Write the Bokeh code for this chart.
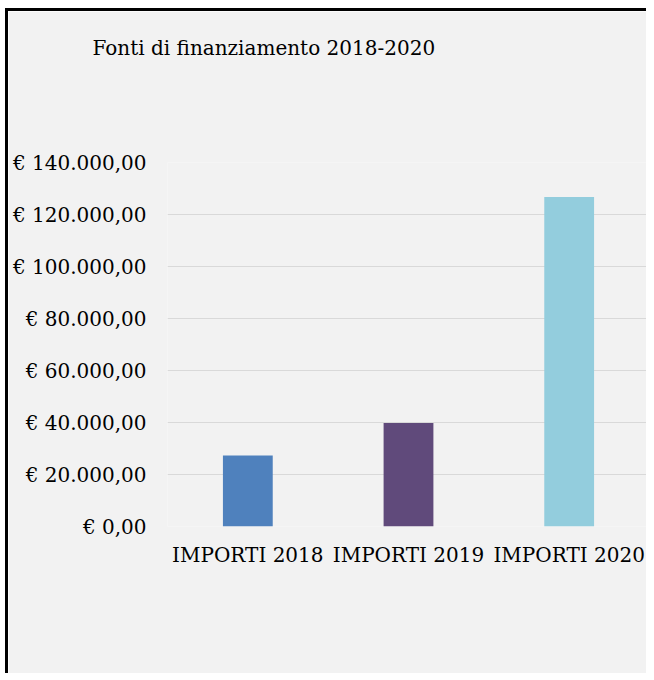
from bokeh.plotting import figure
from bokeh.models import Range1d, FixedTicker, ColumnDataSource, Title
from bokeh.embed import file_html
from bokeh.resources import INLINE

categories = ["IMPORTI 2018", "IMPORTI 2019", "IMPORTI 2020"]
values = [27300, 39800, 126700]
colors = ["#4f81bd", "#604a7b", "#93cddd"]
y_ticks = [0, 20000, 40000, 60000, 80000, 100000, 120000, 140000]
y_tick_labels = ["€ 0,00", "€ 20.000,00", "€ 40.000,00", "€ 60.000,00",
                 "€ 80.000,00", "€ 100.000,00", "€ 120.000,00", "€ 140.000,00"]
title_text = "Fonti di finanziamento 2018-2020"

FONT = "DejaVu Serif"
BG = "#f2f2f2"

src = ColumnDataSource(dict(cat=categories, val=values, color=colors))

p = figure(x_range=categories, y_range=Range1d(0, 140000),
           width=641, height=665, output_backend="svg", toolbar_location=None,
           min_border_left=159, min_border_right=0, min_border_top=151, min_border_bottom=150)
p.styles = {"border-left": "3px solid black", "border-top": "3px solid black",
            "margin-left": "5px", "margin-top": "8px"}

p.background_fill_color = BG
p.border_fill_color = BG
p.outline_line_color = None

p.vbar(x="cat", top="val", width=0.31, color="color", line_color=None, source=src)

p.xgrid.grid_line_color = None
p.ygrid.grid_line_color = "#d9d9d9"
p.ygrid.grid_line_width = 1

p.yaxis.ticker = FixedTicker(ticks=y_ticks)
p.yaxis.major_label_overrides = {t: l for t, l in zip(y_ticks, y_tick_labels)}
for ax in (p.xaxis[0], p.yaxis[0]):
    ax.axis_line_color = None
    ax.major_tick_line_color = None
    ax.minor_tick_line_color = None
    ax.major_label_text_font = FONT
    ax.major_label_text_color = "#000000"
    ax.major_label_text_font_size = "20px"
p.yaxis.major_label_standoff = 15
p.xaxis.major_label_standoff = 10

# built-in title unused
p.title.text = ""

# spacer (closest to the frame), drawn in the background colour
spacer = Title(text=".", text_color=BG, text_font_size="10px", standoff=88)
p.add_layout(spacer, "above")

# the visible chart title, added last so it sits above the spacer
main_title = Title(text=title_text, text_font=FONT, text_font_size="20px",
                   text_font_style="normal", text_color="#000000",
                   align="left", offset=-75, standoff=10)
p.add_layout(main_title, "above")

open("out.html", "w").write(file_html(p, INLINE))
